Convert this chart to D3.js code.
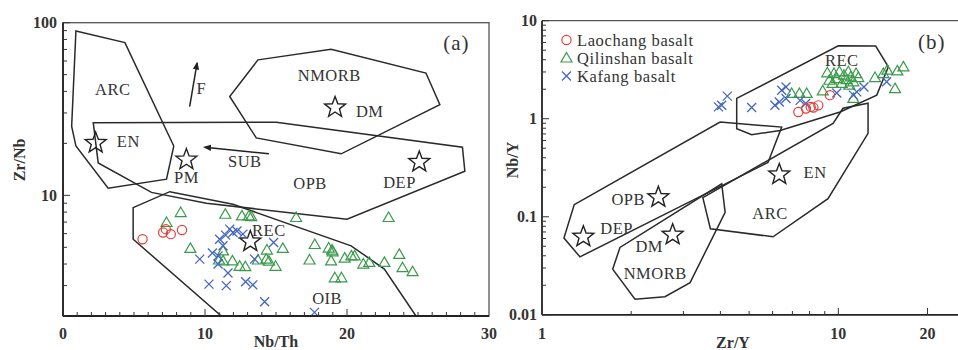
<!DOCTYPE html>
<html>
<head>
<meta charset="utf-8">
<script src="https://cdn.jsdelivr.net/npm/d3@7"></script>
<style>
  body { margin: 0; background: #fff; }
  text { font-family: "Liberation Serif", "Times New Roman", serif; fill: #333; }
</style>
</head>
<body>
<svg id="chart" width="958" height="350"></svg>
<script>
// ---- panel (a): Nb/Th vs Zr/Nb ----
const laochangA = [[5.6, 5.57], [7.05, 6.09], [7.24, 6.37], [7.59, 5.96], [8.38, 6.3]];
const qilinshanA = [
  [7.29, 6.96], [8.29, 7.95], [11.43, 7.77], [12.6, 7.6], [13.09, 7.6], [13.26, 7.53],
  [16.42, 7.44], [22.93, 7.44], [8.97, 4.93], [11.27, 4.77], [10.99, 4.22], [11.27, 4.17],
  [11.93, 4.17], [12.44, 3.88], [12.84, 3.86], [14.36, 4.82], [14.31, 4.27], [14.5, 4.16],
  [14.97, 3.88], [15.48, 4.93], [13.73, 4.22], [17.73, 5.19], [17.36, 4.22], [18.71, 4.95],
  [18.95, 4.82], [18.99, 4.71], [18.88, 4.17], [19.14, 3.33], [19.61, 3.33], [19.84, 4.33],
  [20.31, 4.46], [20.54, 4.46], [21.15, 4.0], [21.57, 4.09], [22.63, 4.09], [23.68, 4.55],
  [23.91, 3.81], [24.62, 3.61]
];
const kafangA = [
  [9.63, 4.27], [10.28, 3.06], [10.52, 4.63], [10.92, 4.0], [10.92, 4.46], [11.03, 5.57],
  [11.27, 5.1], [11.45, 5.88], [11.74, 6.37], [11.97, 6.09], [12.25, 6.22], [12.67, 5.96],
  [11.5, 3.0], [11.62, 3.55], [12.86, 3.16], [13.37, 3.03], [13.49, 4.27], [14.2, 2.42],
  [14.83, 5.33], [17.71, 2.1]
];
const fieldsA = [
  [[0.91, 89.6], [4.36, 76.7], [7.8, 19.3], [7.29, 12.4], [3.18, 11.0], [0.91, 19.3], [0.61, 25.1]],
  [[2.13, 26.3], [15.02, 26.5], [28.13, 19.0], [28.3, 13.8], [20.0, 7.27], [10.1, 9.0], [6.23, 10.4], [2.48, 15.4]],
  [[13.73, 60.9], [18.88, 70.2], [25.56, 51.1], [26.54, 33.5], [19.59, 17.4], [13.61, 21.5], [11.74, 37.4]],
  [[4.94, 8.49], [7.52, 10.5], [11.97, 8.87], [20.29, 5.1], [22.63, 3.74], [24.86, 2.0], [11.15, 2.0], [4.94, 5.57]]
];
const starsA = [[2.3, 20.1], [8.69, 16.1], [19.16, 32.3], [25.09, 15.6], [13.19, 5.4]];
const labelsA = [
  ["ARC", 3.5, 40.9], ["EN", 4.6, 20.6], ["PM", 8.7, 12.65], ["SUB", 12.8, 15.8],
  ["OPB", 17.4, 11.7], ["DEP", 23.7, 11.9], ["NMORB", 18.75, 49.3], ["DM", 21.6, 30.6],
  ["F", 9.75, 41.8], ["REC", 14.5, 6.28], ["OIB", 18.6, 2.51]
];
const tagA = ["(a)", 27.7, 76.7];
const arrowsA = [[[8.92, 32.7], [9.44, 58.3]], [[14.5, 17.4], [9.98, 19.0]]];
const xTicksA = [0, 10, 20, 30];
const yTicksA = [10, 100];

// ---- panel (b): Zr/Y vs Nb/Y ----
const laochangB = [[7.33, 1.17], [7.78, 1.27], [8.07, 1.32], [8.24, 1.3], [8.56, 1.37], [9.37, 1.74]];
const qilinshanB = [
  [6.96, 1.81], [7.39, 1.81], [7.82, 1.81], [8.86, 1.92], [9.18, 2.94], [9.33, 2.47],
  [9.57, 2.29], [9.67, 2.89], [9.88, 2.57], [10.08, 3.01], [10.27, 2.29], [10.45, 2.78],
  [10.67, 2.51], [10.81, 3.01], [11.01, 2.67], [11.24, 2.38], [10.89, 2.2], [11.48, 2.89],
  [11.68, 2.63], [13.3, 2.63], [14.19, 2.89], [14.64, 3.13], [15.82, 3.08], [16.58, 3.38],
  [15.54, 2.03], [11.24, 1.61]
];
const kafangB = [
  [3.94, 1.32], [4.04, 1.37], [4.22, 1.7], [5.1, 1.3], [6.11, 1.37], [6.32, 1.48],
  [6.44, 1.95], [6.66, 2.11], [6.66, 1.61], [7.76, 1.43], [11.24, 1.74], [11.54, 1.88],
  [12.2, 2.11], [14.56, 2.38], [9.88, 1.83], [7.43, 1.54]
];
const fieldsB = [
  [[1.285, 0.133], [3.99, 0.925], [6.44, 0.822], [5.79, 0.358], [1.343, 0.039], [1.186, 0.0607]],
  [[4.54, 1.61], [10.0, 5.55], [13.37, 5.51], [14.75, 3.38], [13.48, 1.74], [10.14, 1.17], [6.36, 0.76], [5.1, 0.687], [4.54, 0.792]],
  [[3.49, 0.157], [9.6, 0.897], [10.37, 1.28], [12.6, 1.44], [12.6, 0.709], [9.23, 0.153], [6.02, 0.0625], [3.7, 0.0755]],
  [[1.732, 0.0292], [1.833, 0.0486], [4.04, 0.217], [4.15, 0.111], [3.16, 0.0213], [2.6, 0.0153], [2.06, 0.0144]]
];
const starsB = [[1.379, 0.0625], [2.47, 0.158], [2.76, 0.0656], [6.32, 0.27]];
const labelsB = [
  ["OPB", 1.955, 0.1486], ["DEP", 1.787, 0.076], ["DM", 2.3, 0.0498], ["NMORB", 2.41, 0.0264],
  ["ARC", 5.88, 0.108], ["EN", 8.35, 0.281], ["REC", 10.27, 3.96]
];
const tagB = ["(b)", 20.66, 6.1];
const xTicksB = [1, 10, 20];
const yTicksB = [0.01, 0.1, 1, 10];
const legendNames = ["Laochang basalt", "Qilinshan basalt", "Kafang basalt"];

const RED = "#e0413a", GREEN = "#3a9a4a", BLUE = "#4466c0";

const svg = d3.select("#chart");
const defs = svg.append("defs");
defs.append("marker")
  .attr("id", "head")
  .attr("viewBox", "0 0 10 10")
  .attr("refX", 8).attr("refY", 5)
  .attr("markerWidth", 8).attr("markerHeight", 8)
  .attr("markerUnits", "userSpaceOnUse")
  .attr("orient", "auto")
  .append("path").attr("d", "M0,1 L10,5 L0,9 Z").attr("fill", "#222");

const xa = d3.scaleLinear().domain([0, 30]).range([63, 489]);
const ya = d3.scaleLog().domain([2, 100]).range([316, 22.7]);
const xb = d3.scaleLog().domain([1, 30]).range([542, 979.7]);
const yb = d3.scaleLog().domain([0.01, 10]).range([314.8, 20.7]);

function starPath(r1, r2) {
  return d3.range(10).map(i => {
    const r = i % 2 ? r2 : r1;
    const a = -Math.PI / 2 + i * Math.PI / 5;
    return [r * Math.cos(a), r * Math.sin(a)];
  });
}
const starPts = starPath(11, 4.6);
const line = d3.line();

function drawMarkers(g, x, y, laochang, qilinshan, kafang) {
  g.selectAll(".tri").data(qilinshan).enter().append("path")
    .attr("d", "M0,-5.5 L5.5,4 L-5.5,4 Z")
    .attr("transform", d => `translate(${x(d[0])},${y(d[1])})`)
    .attr("fill", "none").attr("stroke", GREEN).attr("stroke-width", 1.2);
  g.selectAll(".cross").data(kafang).enter().append("path")
    .attr("d", "M-4.5,-4.5 L4.5,4.5 M-4.5,4.5 L4.5,-4.5")
    .attr("transform", d => `translate(${x(d[0])},${y(d[1])})`)
    .attr("fill", "none").attr("stroke", BLUE).attr("stroke-width", 1.3);
  g.selectAll(".circ").data(laochang).enter().append("circle")
    .attr("cx", d => x(d[0])).attr("cy", d => y(d[1])).attr("r", 4.6)
    .attr("fill", "none").attr("stroke", RED).attr("stroke-width", 1.2);
}

function drawPanel(x, y, fields, stars, labels, tag) {
  const g = svg.append("g");
  g.selectAll(".field").data(fields).enter().append("path")
    .attr("d", d => line.curve(d3.curveLinearClosed)(d.map(p => [x(p[0]), y(p[1])])))
    .attr("fill", "none").attr("stroke", "#2a2a2a").attr("stroke-width", 1.5);
  g.selectAll(".star").data(stars).enter().append("path")
    .attr("d", d3.line().curve(d3.curveLinearClosed)(starPts))
    .attr("transform", d => `translate(${x(d[0])},${y(d[1])})`)
    .attr("fill", "none").attr("stroke", "#222").attr("stroke-width", 1.4);
  g.selectAll(".lab").data(labels).enter().append("text")
    .attr("x", d => x(d[1])).attr("y", d => y(d[2]))
    .attr("text-anchor", "middle").attr("dominant-baseline", "central")
    .attr("font-size", 16.5).attr("letter-spacing", 0.5)
    .text(d => d[0]);
  g.append("text")
    .attr("x", x(tag[1])).attr("y", y(tag[2]))
    .attr("text-anchor", "middle").attr("dominant-baseline", "central")
    .attr("font-size", 21).attr("letter-spacing", 1)
    .text(tag[0]);
  return g;
}

// panel (a)
const gA = drawPanel(xa, ya, fieldsA, starsA, labelsA, tagA);
drawMarkers(gA, xa, ya, laochangA, qilinshanA, kafangA);
gA.selectAll(".arrow").data(arrowsA).enter().append("line")
  .attr("x1", d => xa(d[0][0])).attr("y1", d => ya(d[0][1]))
  .attr("x2", d => xa(d[1][0])).attr("y2", d => ya(d[1][1]))
  .attr("stroke", "#222").attr("stroke-width", 1.5).attr("marker-end", "url(#head)");

// frame (a)
svg.append("rect").attr("x", 63).attr("y", 22.7).attr("width", 426).attr("height", 293.3)
  .attr("fill", "none").attr("stroke", "#555").attr("stroke-width", 1.3);
const axA = svg.append("g");
axA.append("line").attr("x1", 63).attr("x2", 489).attr("y1", 316).attr("y2", 316).attr("stroke", "#222").attr("stroke-width", 1.8);
axA.append("line").attr("x1", 63).attr("x2", 63).attr("y1", 22.7).attr("y2", 316).attr("stroke", "#222").attr("stroke-width", 1.8);
axA.selectAll(".xt").data(d3.range(1, 30)).enter().append("line")
  .attr("x1", d => xa(d)).attr("x2", d => xa(d)).attr("y1", 316).attr("y2", d => d % 10 ? 312 : 309)
  .attr("stroke", "#333");
axA.selectAll(".yt").data(ya.ticks()).enter().append("line")
  .attr("y1", d => ya(d)).attr("y2", d => ya(d)).attr("x1", 63)
  .attr("x2", d => (d === 10 || d === 100) ? 70 : 67)
  .attr("stroke", "#333");
axA.selectAll(".xl").data(xTicksA).enter().append("text")
  .attr("x", d => xa(d)).attr("y", 333).attr("text-anchor", "middle").attr("dominant-baseline", "central")
  .attr("font-size", 16).attr("font-weight", "bold").text(d => d);
axA.selectAll(".yl").data(yTicksA).enter().append("text")
  .attr("x", 57).attr("y", d => ya(d)).attr("text-anchor", "end").attr("dominant-baseline", "central")
  .attr("font-size", 16).attr("font-weight", "bold").text(d => d);
axA.append("text").attr("x", 276).attr("y", 347).attr("text-anchor", "middle")
  .attr("font-size", 16).attr("font-weight", "bold").text("Nb/Th");
axA.append("text").attr("transform", "translate(19,160) rotate(-90)").attr("text-anchor", "middle")
  .attr("dominant-baseline", "central").attr("font-size", 16).attr("font-weight", "bold").text("Zr/Nb");

// panel (b)
const gB = drawPanel(xb, yb, fieldsB, starsB, labelsB, tagB);
drawMarkers(gB, xb, yb, laochangB, qilinshanB, kafangB);

// legend (b)
const leg = svg.append("g");
const legItems = legendNames.map((n, i) => ({ name: n, i: i }));
const legY = d3.scaleLinear().domain([0, 2]).range([40, 76]);
leg.selectAll("text").data(legItems).enter().append("text")
  .attr("x", 577).attr("y", d => legY(d.i)).attr("dominant-baseline", "central")
  .attr("font-size", 16.5).attr("letter-spacing", 0.6).text(d => d.name);
leg.append("circle").attr("cx", 566.5).attr("cy", legY(0)).attr("r", 4.6)
  .attr("fill", "none").attr("stroke", RED).attr("stroke-width", 1.2);
leg.append("path").attr("d", "M0,-5.5 L5.5,4 L-5.5,4 Z").attr("transform", `translate(566.5,${legY(1)})`)
  .attr("fill", "none").attr("stroke", GREEN).attr("stroke-width", 1.2);
leg.append("path").attr("d", "M-4.5,-4.5 L4.5,4.5 M-4.5,4.5 L4.5,-4.5").attr("transform", `translate(566.5,${legY(2)})`)
  .attr("fill", "none").attr("stroke", BLUE).attr("stroke-width", 1.3);

// frame (b)
const axB = svg.append("g");
axB.append("line").attr("x1", 542).attr("x2", 958).attr("y1", 20.7).attr("y2", 20.7).attr("stroke", "#555").attr("stroke-width", 1.3);
axB.append("line").attr("x1", 542).attr("x2", 958).attr("y1", 314.8).attr("y2", 314.8).attr("stroke", "#222").attr("stroke-width", 1.8);
axB.append("line").attr("x1", 542).attr("x2", 542).attr("y1", 20.7).attr("y2", 314.8).attr("stroke", "#222").attr("stroke-width", 1.8);
axB.selectAll(".xt").data(xb.ticks().filter(d => d > 1 && d < 30)).enter().append("line")
  .attr("x1", d => xb(d)).attr("x2", d => xb(d)).attr("y1", 314.8)
  .attr("y2", d => (d === 10 || d === 20) ? 308 : 311)
  .attr("stroke", "#333");
axB.selectAll(".yt").data(yb.ticks()).enter().append("line")
  .attr("y1", d => yb(d)).attr("y2", d => yb(d)).attr("x1", 542)
  .attr("x2", d => yTicksB.includes(d) ? 549 : 546)
  .attr("stroke", "#333");
axB.selectAll(".xl").data(xTicksB).enter().append("text")
  .attr("x", d => xb(d)).attr("y", 333).attr("text-anchor", "middle").attr("dominant-baseline", "central")
  .attr("font-size", 16).attr("font-weight", "bold").text(d => d);
axB.selectAll(".yl").data(yTicksB).enter().append("text")
  .attr("x", 537).attr("y", d => yb(d)).attr("text-anchor", "end").attr("dominant-baseline", "central")
  .attr("font-size", 16).attr("font-weight", "bold").text(d => d);
axB.append("text").attr("x", 733).attr("y", 348).attr("text-anchor", "middle")
  .attr("font-size", 16).attr("font-weight", "bold").text("Zr/Y");
axB.append("text").attr("transform", "translate(512,160) rotate(-90)").attr("text-anchor", "middle")
  .attr("dominant-baseline", "central").attr("font-size", 16).attr("font-weight", "bold").text("Nb/Y");
</script>
</body>
</html>
